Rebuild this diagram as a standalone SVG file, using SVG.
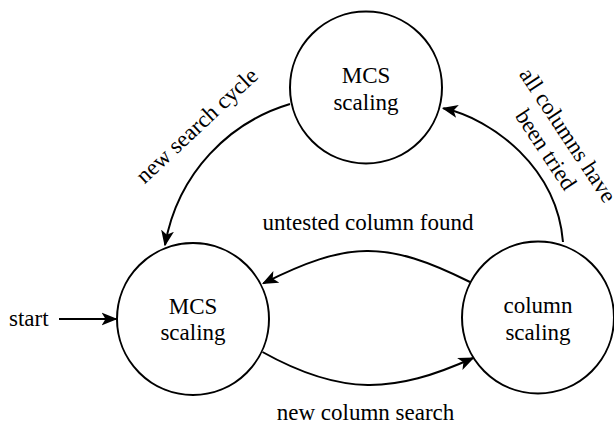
<svg xmlns="http://www.w3.org/2000/svg" width="614" height="423" viewBox="0 0 614 423">
  <style>
    .node { fill: #ffffff; stroke: #000000; stroke-width: 2; }
    .edge { fill: none; stroke: #000000; stroke-width: 2; }
    .lbl { font-family: 'Liberation Serif', 'Times New Roman', Times, 'DejaVu Serif', serif; font-size: 23px; fill: #000000; }
  </style>
  <defs>
    <marker id="arrow" markerUnits="userSpaceOnUse" markerWidth="16" markerHeight="14" viewBox="0 0 16 14" refX="14.5" refY="7" orient="auto">
      <path d="M0,0.5 L16,7 L0,13.5 L4,7 Z" fill="#000000"/>
    </marker>
  </defs>
  <rect width="614" height="423" fill="#ffffff"/>

  <g id="edges">
    <path id="edge-start" class="edge" d="M59,319 L116,319" marker-end="url(#arrow)"/>
    <path id="edge-new-search-cycle" class="edge" d="M290,104 C230,122 178,172 165,245" marker-end="url(#arrow)"/>
    <path id="edge-all-columns-tried" class="edge" d="M563,242 C557,168 493,119 443.3,108.3" marker-end="url(#arrow)"/>
    <path id="edge-untested-column-found" class="edge" d="M470,282 C385.6,239.8 347.7,241.1 263.3,283.3" marker-end="url(#arrow)"/>
    <path id="edge-new-column-search" class="edge" d="M262.5,352 C341.5,396.2 394,393.6 473,358" marker-end="url(#arrow)"/>
  </g>

  <g id="edge-labels">
    <text class="lbl" x="9" y="325.5">start</text>
    <text class="lbl" text-anchor="middle" transform="translate(202,131) rotate(-43)">new search cycle</text>
    <text class="lbl" text-anchor="middle" transform="translate(550.6,146.5) rotate(56.5)"><tspan x="0" y="-13.2">all columns have</tspan><tspan x="0" y="13.2">been tried</tspan></text>
    <text class="lbl" text-anchor="middle" x="368" y="230">untested column found</text>
    <text class="lbl" text-anchor="middle" x="365.5" y="419.5">new column search</text>
  </g>

  <g id="node-mcs-top">
    <circle class="node" cx="366" cy="87.5" r="76"/>
    <text class="lbl" text-anchor="middle" x="366" y="83">MCS</text>
    <text class="lbl" text-anchor="middle" x="366" y="109.5">scaling</text>
  </g>

  <g id="node-mcs-left">
    <circle class="node" cx="193" cy="319" r="76"/>
    <text class="lbl" text-anchor="middle" x="193" y="313.5">MCS</text>
    <text class="lbl" text-anchor="middle" x="193" y="340">scaling</text>
  </g>

  <g id="node-column">
    <circle class="node" cx="538" cy="317.5" r="76"/>
    <text class="lbl" text-anchor="middle" x="538" y="313">column</text>
    <text class="lbl" text-anchor="middle" x="538" y="339.5">scaling</text>
  </g>
</svg>
